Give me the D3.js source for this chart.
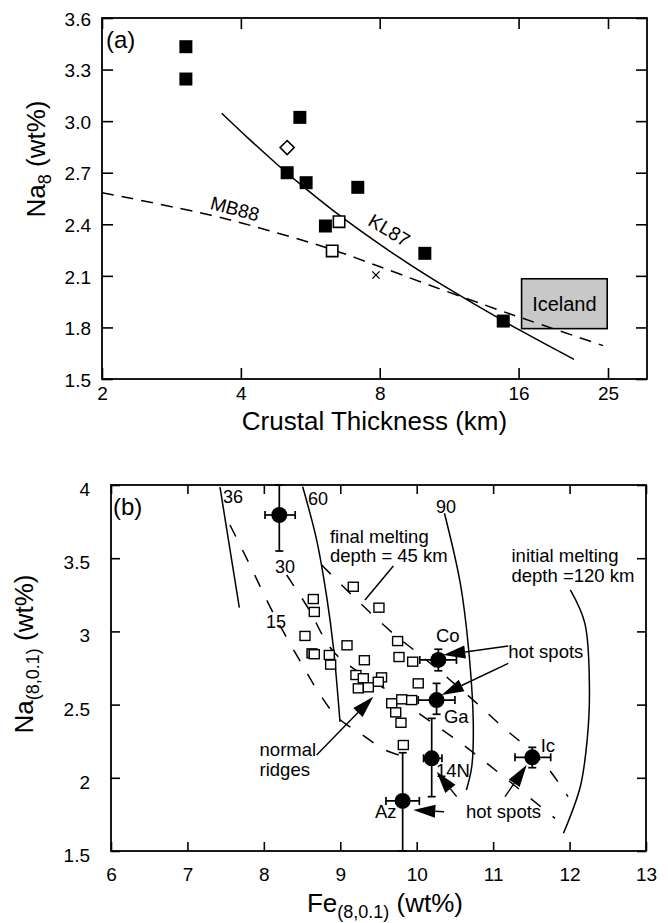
<!DOCTYPE html>
<html lang="en">
<head>
<meta charset="UTF-8">
<title>Na8 vs crustal thickness and Fe8</title>
<script src="https://cdnjs.cloudflare.com/ajax/libs/d3/7.9.0/d3.min.js"></script>
<style>
    body { margin: 0; background: #fff; }
    svg { display: block; font-family: "Liberation Sans", Arial, sans-serif; }
    .frame { fill: none; stroke: #000; stroke-width: 1.8; }
    .axis path.domain { display: none; }
    .axis line { stroke: #000; stroke-width: 1.6; }
    .axis text { font-family: "Liberation Sans", Arial, sans-serif; font-size: 19px; fill: #000; }
    .curve { fill: none; stroke: #000; stroke-width: 1.5; }
</style>
</head>
<body>
<svg id="chart" width="668" height="923"></svg>
<script>
// ---------- panel (a): Na8 vs crustal thickness ----------
const xTicksA = [2, 4, 8, 16, 25];
const yTicksA = [1.5, 1.8, 2.1, 2.4, 2.7, 3.0, 3.3, 3.6];

// [thickness km, Na8]
const filledA = [[3.04, 3.433], [3.04, 3.245], [5.37, 3.022], [5.04, 2.700], [5.54, 2.642],
                 [7.17, 2.615], [6.10, 2.390], [10.02, 2.231], [14.82, 1.837]];
const openA = [[6.53, 2.415], [6.31, 2.245]];
const diamondA = [[5.04, 2.846]];
const crossA = [[7.85, 2.105]];
const kl87 = [[3.635, 3.046], [4.186, 2.891], [4.783, 2.751], [5.373, 2.635], [6.343, 2.480],
              [8.42, 2.243], [10.45, 2.079], [12.98, 1.928], [16.10, 1.784], [21.1, 1.614]];
const mb88 = [[2, 2.584], [3.428, 2.454], [4.55, 2.367], [6.343, 2.251], [7.877, 2.160],
              [10.45, 2.038], [14.58, 1.899], [16.1, 1.859], [24.4, 1.694]];
const icelandX = [16.24, 24.9];
const icelandY = [1.793, 2.083];

// ---------- panel (b): Na(8,0.1) vs Fe(8,0.1) ----------
const xTicksB = [6, 7, 8, 9, 10, 11, 12, 13];
const yTicksB = [1.5, 2, 2.5, 3, 3.5, 4];

// normal ridges [Fe, Na]
const ridgesB = [[9.17, 3.305], [9.506, 3.162], [8.647, 3.221], [8.66, 3.133], [8.538, 2.969],
                 [9.088, 2.905], [8.66, 2.844], [8.856, 2.839], [8.874, 2.773], [9.315, 2.803],
                 [9.75, 2.934], [9.768, 2.825], [9.947, 2.793], [9.205, 2.702], [9.301, 2.680],
                 [9.54, 2.686], [9.497, 2.656], [9.236, 2.611], [9.367, 2.618], [10.02, 2.645],
                 [9.673, 2.509], [9.804, 2.536], [9.934, 2.531], [9.725, 2.447], [9.794, 2.376],
                 [9.825, 2.224]];
const ridgesGrey = [[8.63, 2.85]];

// hot spots [Fe, Na, FeLo, FeHi, NaLo, NaHi]
const spotsB = [[8.202, 3.795, 8.015, 8.41, 3.549, 4.0],
                [10.283, 2.805, 10.04, 10.52, 2.731, 2.878],
                [10.26, 2.531, 10.02, 10.5, 2.434, 2.645],
                [10.196, 2.133, 10.09, 10.33, 1.871, 2.406],
                [11.512, 2.14, 11.286, 11.753, 2.069, 2.208],
                [9.816, 1.842, 9.598, 10.034, 1.5, 2.171]];

// isopleths (solid = initial melting depth, dashed = final melting depth)
const iso36 = [[7.426, 3.985], [7.679, 3.162]];
const iso60 = [[8.508, 3.988], [8.691, 3.624], [8.822, 3.237], [8.909, 2.895], [8.996, 2.383]];
const iso90 = [[10.363, 3.807], [10.57, 3.329], [10.68, 2.873], [10.74, 2.372], [10.72, 2.076], [10.65, 1.917]];
const iso120 = [[12.01, 3.283], [12.20, 3.055], [12.26, 2.60], [12.23, 2.258], [12.14, 1.939], [11.92, 1.621]];
const fin15 = [[7.557, 3.727], [7.796, 3.476], [8.124, 3.124], [8.516, 2.759], [8.712, 2.588],
               [8.953, 2.417], [9.258, 2.304], [9.585, 2.19], [9.80, 2.15]];
const fin30 = [[8.299, 3.385], [8.581, 3.158], [8.931, 2.85], [9.673, 2.577], [10.0, 2.451],
               [10.61, 2.224], [11.22, 1.973], [11.81, 1.723]];
const fin45 = [[8.757, 3.454], [9.149, 3.249], [9.716, 2.975], [10.02, 2.85], [10.74, 2.531],
               [11.11, 2.354], [11.42, 2.217], [11.70, 2.076], [11.98, 1.871]];

// [text, Fe, Na]
const isoLabels = [["36", 7.465, 3.877], ["60", 8.578, 3.863], ["90", 10.252, 3.809],
                   ["30", 8.146, 3.399], ["15", 8.028, 3.023]];
const notesB = [["final melting", 8.865, 3.604], ["depth = 45 km", 8.865, 3.474],
                ["initial melting", 11.24, 3.476], ["depth =120 km", 11.24, 3.339],
                ["Co", 10.252, 2.93], ["hot spots", 11.198, 2.818], ["Ga", 10.357, 2.374],
                ["Ic", 11.622, 2.178], ["14N", 10.252, 2.008], ["Az", 9.454, 1.725],
                ["hot spots", 10.645, 1.725], ["normal", 7.944, 2.150], ["ridges", 7.944, 2.012]];
// [fromFe, fromNa, toFe, toNa]
const arrowsB = [[11.198, 2.9, 10.348, 2.839], [11.198, 2.782, 10.327, 2.566],
                 [8.691, 2.156, 9.432, 2.554], [10.523, 1.871, 10.261, 2.042],
                 [11.155, 1.871, 11.439, 2.087], [10.357, 1.768, 9.955, 1.78]];
const leaderB = [[9.694, 3.447], [9.323, 3.214]];

const svg = d3.select("#chart");

function frameAxes(g, x, y, box, xt, yt, opt) {
    g.append("rect").attr("class", "frame")
        .attr("x", box[0]).attr("y", box[1])
        .attr("width", box[2] - box[0]).attr("height", box[3] - box[1]);
    const bottom = g.append("g").attr("class", "axis").attr("transform", `translate(0,${box[3]})`)
        .call(d3.axisBottom(x).tickValues(xt).tickSize(-opt.tick).tickPadding(opt.xPad).tickFormat(opt.xFmt));
    bottom.selectAll("text").attr("dy", "0.71em");
    g.append("g").attr("class", "axis").attr("transform", `translate(0,${box[1]})`)
        .call(d3.axisTop(x).tickValues(xt).tickSize(-opt.tick).tickFormat(""));
    const left = g.append("g").attr("class", "axis").attr("transform", `translate(${box[0]},0)`)
        .call(d3.axisLeft(y).tickValues(yt).tickSize(-opt.tick).tickPadding(opt.yPad).tickFormat(opt.yFmt));
    left.selectAll("text").attr("dy", opt.yDy);
    g.append("g").attr("class", "axis").attr("transform", `translate(${box[2]},0)`)
        .call(d3.axisRight(y).tickValues(yt).tickSize(-opt.tick).tickFormat(""));
    g.selectAll(".axis text").attr("font-size", 19).attr("font-family", null);
}

function arrow(g, x1, y1, x2, y2) {
    const len = 22, hw = 6.5;
    const dx = x2 - x1, dy = y2 - y1, d = Math.hypot(dx, dy);
    const ux = dx / d, uy = dy / d;
    const bx = x2 - ux * len, by = y2 - uy * len;
    g.append("line").attr("x1", x1).attr("y1", y1).attr("x2", bx).attr("y2", by)
        .attr("stroke", "#000").attr("stroke-width", 1.4);
    g.append("path")
        .attr("d", `M${x2},${y2}L${bx - uy * hw},${by + ux * hw}L${bx + uy * hw},${by - ux * hw}Z`)
        .attr("fill", "#000");
}

// ----- draw panel (a)
const gA = svg.append("g");
const xA = d3.scaleLog().domain([2, 25]).range([102, 608]);
const yA = d3.scaleLinear().domain([1.5, 3.6]).range([379, 18]);
const lineA = d3.line().x(d => xA(d[0])).y(d => yA(d[1])).curve(d3.curveCatmullRom);

gA.append("rect")
    .attr("x", xA(icelandX[0])).attr("y", yA(icelandY[1]))
    .attr("width", xA(icelandX[1]) - xA(icelandX[0]))
    .attr("height", yA(icelandY[0]) - yA(icelandY[1]))
    .attr("fill", "#c8c8c8").attr("stroke", "#000").attr("stroke-width", 1.6);
gA.append("text").attr("x", (xA(icelandX[0]) + xA(icelandX[1])) / 2)
    .attr("y", (yA(icelandY[0]) + yA(icelandY[1])) / 2).attr("dy", "0.36em")
    .attr("text-anchor", "middle").attr("font-size", 20).text("Iceland");

gA.append("path").attr("class", "curve").attr("d", lineA(mb88)).attr("stroke-dasharray", "12,8");
gA.append("path").attr("class", "curve").attr("d", lineA(kl87));

gA.append("text").attr("transform", `translate(${xA(3.884)},${yA(2.473) - 3}) rotate(15)`)
    .attr("text-anchor", "middle").attr("dy", "0.35em").attr("font-size", 19).text("MB88");
gA.append("text").attr("transform", `translate(${xA(8.35) + 1},${yA(2.348) - 3}) rotate(31)`)
    .attr("text-anchor", "middle").attr("dy", "0.35em").attr("font-size", 19).text("KL87");

gA.selectAll(".filled").data(filledA).join("path")
    .attr("transform", d => `translate(${xA(d[0])},${yA(d[1])})`)
    .attr("d", d3.symbol(d3.symbolSquare, 169)).attr("fill", "#000");
gA.selectAll(".open").data(openA).join("path")
    .attr("transform", d => `translate(${xA(d[0])},${yA(d[1])})`)
    .attr("d", d3.symbol(d3.symbolSquare, 130)).attr("fill", "#fff")
    .attr("stroke", "#000").attr("stroke-width", 1.6);
gA.selectAll(".diamond").data(diamondA).join("path")
    .attr("transform", d => `translate(${xA(d[0])},${yA(d[1])}) rotate(45)`)
    .attr("d", d3.symbol(d3.symbolSquare, 100)).attr("fill", "#fff")
    .attr("stroke", "#000").attr("stroke-width", 1.6);
gA.selectAll(".cross").data(crossA).join("path")
    .attr("transform", d => `translate(${xA(d[0])},${yA(d[1])})`)
    .attr("d", d3.symbol(d3.symbolX, 36)).attr("fill", "none")
    .attr("stroke", "#000").attr("stroke-width", 1.4);

frameAxes(gA, xA, yA, [102, 18, 647, 379], xTicksA, yTicksA,
    { tick: 11, xPad: 8, yPad: 11, xFmt: d3.format("d"), yFmt: d3.format(".1f"), yDy: "0.38em" });

gA.append("text").attr("x", 106).attr("y", 48).attr("font-size", 24).text("(a)");
gA.append("text").attr("x", 374.5).attr("y", 430).attr("text-anchor", "middle")
    .attr("font-size", 26).text("Crustal Thickness (km)");
const tA = gA.append("text").attr("transform", "translate(45,159) rotate(-90)")
    .attr("text-anchor", "middle").attr("font-size", 26);
tA.append("tspan").text("Na");
tA.append("tspan").attr("font-size", 18).attr("dy", 6).text("8");
tA.append("tspan").attr("dy", -6).text(" (wt%)");

// ----- draw panel (b)
const gB = svg.append("g");
const xB = d3.scaleLinear().domain([6, 13]).range([111, 646]);
const yB = d3.scaleLinear().domain([1.5, 4]).range([851, 485]);
const lineB = d3.line().x(d => xB(d[0])).y(d => yB(d[1])).curve(d3.curveCatmullRom);

[iso36, iso60, iso90, iso120].forEach(l =>
    gB.append("path").attr("class", "curve").attr("d", lineB(l)));
[fin15, fin30, fin45].forEach(l =>
    gB.append("path").attr("class", "curve").attr("d", lineB(l)).attr("stroke-dasharray", "13,15"));
gB.append("path").attr("class", "curve").attr("d", d3.line().x(d => xB(d[0])).y(d => yB(d[1]))(leaderB));

gB.selectAll(".iso").data(isoLabels).join("text")
    .attr("x", d => xB(d[1])).attr("y", d => yB(d[2]))
    .attr("font-size", 18).text(d => d[0]);

gB.selectAll(".ridge").data(ridgesGrey.concat(ridgesB)).join("rect")
    .attr("x", d => xB(d[0]) - 5).attr("y", d => yB(d[1]) - 4.5)
    .attr("width", 10).attr("height", 9)
    .attr("fill", (d, i) => i < ridgesGrey.length ? "#aaa" : "#fff")
    .attr("stroke", "#000").attr("stroke-width", 1.4);

const spot = gB.selectAll(".spot").data(spotsB).join("g");
spot.append("line").attr("x1", d => xB(d[0])).attr("x2", d => xB(d[0]))
    .attr("y1", d => yB(d[4])).attr("y2", d => yB(d[5]));
spot.append("line").attr("x1", d => xB(d[2])).attr("x2", d => xB(d[3]))
    .attr("y1", d => yB(d[1])).attr("y2", d => yB(d[1]));
[4, 5].forEach(k => spot.append("line")
    .attr("x1", d => xB(d[0]) - 4).attr("x2", d => xB(d[0]) + 4)
    .attr("y1", d => yB(d[k])).attr("y2", d => yB(d[k])));
[2, 3].forEach(k => spot.append("line")
    .attr("x1", d => xB(d[k])).attr("x2", d => xB(d[k]))
    .attr("y1", d => yB(d[1]) - 4).attr("y2", d => yB(d[1]) + 4));
spot.selectAll("line").attr("stroke", "#000").attr("stroke-width", 1.7);
spot.append("circle").attr("cx", d => xB(d[0])).attr("cy", d => yB(d[1])).attr("r", 8).attr("fill", "#000");

arrowsB.forEach(a => arrow(gB, xB(a[0]), yB(a[1]), xB(a[2]), yB(a[3])));

gB.selectAll(".note").data(notesB).join("text")
    .attr("x", d => xB(d[1])).attr("y", d => yB(d[2]))
    .attr("font-size", 18.5).text(d => d[0]);

frameAxes(gB, xB, yB, [111, 485, 646, 851], xTicksB, yTicksB,
    { tick: 9, xPad: 17, yPad: 21, xFmt: d3.format("d"), yFmt: d => String(d), yDy: "0.55em" });

gB.append("text").attr("x", 113).attr("y", 515).attr("font-size", 24).text("(b)");
const xtB = gB.append("text").attr("x", 385).attr("y", 912).attr("text-anchor", "middle").attr("font-size", 26);
xtB.append("tspan").text("Fe");
xtB.append("tspan").attr("font-size", 18).attr("dy", 6).text("(8,0.1)");
xtB.append("tspan").attr("dy", -6).text(" (wt%)");
const ytB = gB.append("text").attr("transform", "translate(33,654) rotate(-90)")
    .attr("text-anchor", "middle").attr("font-size", 26);
ytB.append("tspan").text("Na");
ytB.append("tspan").attr("font-size", 18).attr("dy", 6).text("(8,0.1)");
ytB.append("tspan").attr("dy", -6).text(" (wt%)");
</script>
</body>
</html>
